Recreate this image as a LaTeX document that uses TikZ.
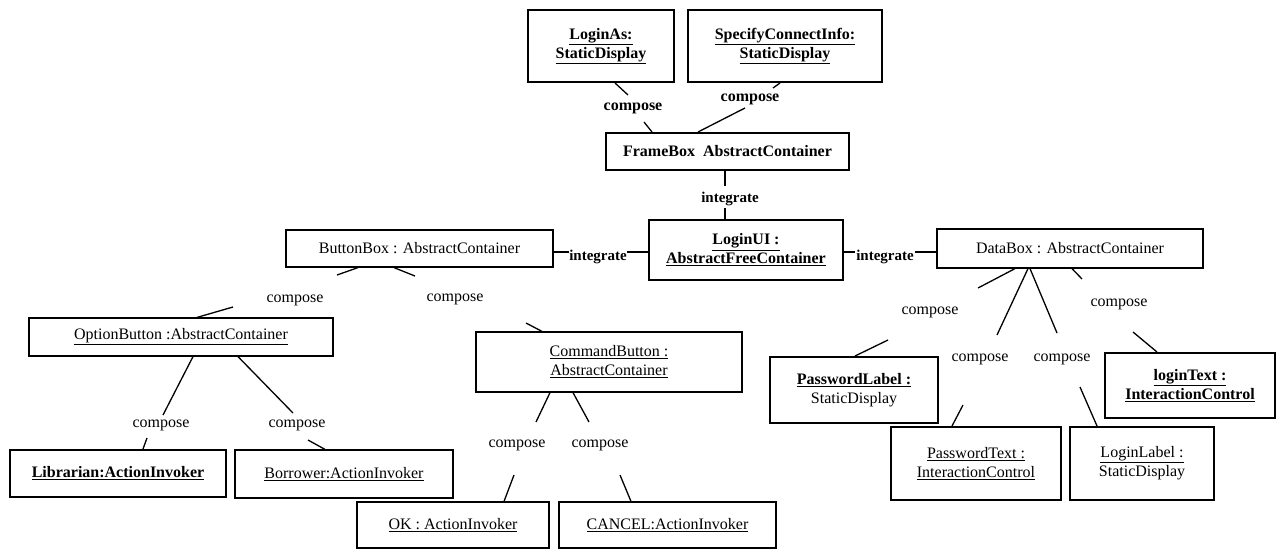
\documentclass[tikz,border=0pt]{standalone}
\usepackage{fontspec}
\setmainfont{Liberation Serif}
\begin{document}
\begin{tikzpicture}[x=1pt,y=-1pt,
  obj/.style={draw, line width=1.2pt, inner sep=0pt, align=center,
              font=\fontsize{16}{19}\selectfont},
  heavy/.style={obj, line width=2pt},
  heavybf/.style={heavy, font=\fontsize{16}{19}\selectfont\bfseries},
  lab/.style={inner sep=0pt, font=\fontsize{16}{19}\selectfont},
  blab/.style={inner sep=0pt, font=\fontsize{16}{19}\selectfont\bfseries},
  ilab/.style={inner sep=0pt, font=\fontsize{15}{17}\selectfont\bfseries},
  link/.style={line width=1.3pt}]
\useasboundingbox (0,0) rectangle (1281,552);

% ---- objects ----
\node[heavybf, minimum width=146pt, minimum height=72pt] (loginAs) at (601,46)
  {\underline{LoginAs:}\\\underline{StaticDisplay}};
\node[heavybf, minimum width=194pt, minimum height=72pt] (specify) at (785,46)
  {\underline{SpecifyConnectInfo:}\\\underline{StaticDisplay}};
\node[heavybf, minimum width=243pt, minimum height=37pt] (frameBox) at (727.5,151.5)
  {FrameBox\ \ AbstractContainer};
\node[heavybf, minimum width=194pt, minimum height=60pt] (loginUI) at (746,250)
  {\underline{LoginUI :}\\\underline{AbstractFreeContainer}};
\node[obj, minimum width=267pt, minimum height=37pt] (buttonBox) at (419.5,248.5)
  {ButtonBox : AbstractContainer};
\node[obj, minimum width=266pt, minimum height=39pt] (dataBox) at (1070,248.5)
  {DataBox : AbstractContainer};
\node[obj, minimum width=304pt, minimum height=38pt] (optionButton) at (181,337)
  {\underline{OptionButton :AbstractContainer}};
\node[obj, minimum width=266pt, minimum height=60pt] (commandButton) at (609,362)
  {\underline{CommandButton :}\\\underline{AbstractContainer}};
\node[heavybf, minimum width=216pt, minimum height=47pt] (librarian) at (118,473.5)
  {\underline{Librarian:ActionInvoker}};
\node[obj, minimum width=218pt, minimum height=48pt] (borrower) at (344,474)
  {\underline{Borrower:ActionInvoker}};
\node[obj, minimum width=192pt, minimum height=46pt] (okBtn) at (453,525)
  {\underline{OK : ActionInvoker}};
\node[obj, minimum width=217pt, minimum height=46pt] (cancelBtn) at (667.5,525)
  {\underline{CANCEL:ActionInvoker}};
\node[heavy, minimum width=168pt, minimum height=66pt] (passwordLabel) at (854,390)
  {\textbf{\underline{PasswordLabel :}}\\StaticDisplay};
\node[heavy, minimum width=170pt, minimum height=73pt] (passwordText) at (976,463.5)
  {\underline{PasswordText :}\\\underline{InteractionControl}};
\node[heavy, minimum width=144pt, minimum height=73pt] (loginLabel) at (1142,463.5)
  {\underline{LoginLabel :}\\StaticDisplay};
\node[heavybf, minimum width=170pt, minimum height=65pt] (loginText) at (1190,385.5)
  {\underline{loginText :}\\\underline{InteractionControl}};

% ---- connector labels ----
\node[blab] (c1) at (633,108) {compose};
\node[blab] (c2) at (750,99) {compose};
\node[ilab] (i1) at (730,199) {integrate};
\node[ilab] (i2) at (598,257) {integrate};
\node[ilab] (i3) at (885,257) {integrate};
\node[lab] (c3) at (295,300) {compose};
\node[lab] (c4) at (455,299) {compose};
\node[lab] (c5) at (161,425) {compose};
\node[lab] (c6) at (297,425) {compose};
\node[lab] (c7) at (517,445) {compose};
\node[lab] (c8) at (600,445) {compose};
\node[lab] (c9) at (930,312) {compose};
\node[lab] (c10) at (980,359) {compose};
\node[lab] (c11) at (1062,359) {compose};
\node[lab] (c12) at (1119,304) {compose};

% ---- gap ends of the broken connectors ----
\coordinate (g1a) at (628,95);   \coordinate (g1b) at (644,122);
\coordinate (g2a) at (773,88);   \coordinate (g2b) at (745,108);
\coordinate (gi1a) at (725,186); \coordinate (gi1b) at (725,208);
\coordinate (gi2a) at (569,252); \coordinate (gi2b) at (627,252);
\coordinate (gi3a) at (855,252); \coordinate (gi3b) at (915,252);
\coordinate (g3a) at (337,275);  \coordinate (g3b) at (233,307);
\coordinate (g4a) at (415,276);  \coordinate (g4b) at (526,323);
\coordinate (g5a) at (163,415);  \coordinate (g5b) at (147,438);
\coordinate (g6a) at (293,413);  \coordinate (g6b) at (308,440);
\coordinate (g7a) at (536,422);  \coordinate (g7b) at (514,475);
\coordinate (g8a) at (589,422);  \coordinate (g8b) at (620,475);
\coordinate (g9a) at (978,288);  \coordinate (g9b) at (888,340);
\coordinate (g10a) at (997,335); \coordinate (g10b) at (963,405);
\coordinate (g11a) at (1057,333);\coordinate (g11b) at (1080,387);
\coordinate (g12a) at (1082,279);\coordinate (g12b) at (1133,332);

% ---- connectors ----
\draw[link] ([xshift=14pt]loginAs.south) -- (g1a);
\draw[link] (g1b) -- ([xshift=-75.5pt]frameBox.north);
\draw[link] ([xshift=-5pt]specify.south) -- (g2a);
\draw[link] (g2b) -- ([xshift=-29.5pt]frameBox.north);
\draw[link] ([xshift=-2.5pt]frameBox.south) -- (gi1a);
\draw[link] (gi1b) -- ([xshift=-21pt]loginUI.north);
\draw[link] ([yshift=-3.5pt]buttonBox.east) -- (gi2a);
\draw[link] (gi2b) -- ([yshift=-2pt]loginUI.west);
\draw[link] ([yshift=-2pt]loginUI.east) -- (gi3a);
\draw[link] (gi3b) -- ([yshift=-3.5pt]dataBox.west);
\draw[link] ([xshift=-61.5pt]buttonBox.south) -- (g3a);
\draw[link] (g3b) -- ([xshift=16pt]optionButton.north);
\draw[link] ([xshift=-25.5pt]buttonBox.south) -- (g4a);
\draw[link] (g4b) -- ([xshift=-67pt]commandButton.north);
\draw[link] ([xshift=12pt]optionButton.south) -- (g5a);
\draw[link] (g5b) -- ([xshift=25pt]librarian.north);
\draw[link] ([xshift=57pt]optionButton.south) -- (g6a);
\draw[link] (g6b) -- ([xshift=-19pt]borrower.north);
\draw[link] ([xshift=-59pt]commandButton.south) -- (g7a);
\draw[link] (g7b) -- ([xshift=51pt]okBtn.north);
\draw[link] ([xshift=-36pt]commandButton.south) -- (g8a);
\draw[link] (g8b) -- ([xshift=-36.5pt]cancelBtn.north);
\draw[link] ([xshift=-55pt]dataBox.south) -- (g9a);
\draw[link] (g9b) -- ([xshift=1pt]passwordLabel.north);
\draw[link] ([xshift=-42pt]dataBox.south) -- (g10a);
\draw[link] (g10b) -- ([xshift=-24pt]passwordText.north);
\draw[link] ([xshift=-40pt]dataBox.south) -- (g11a);
\draw[link] (g11b) -- ([xshift=-45pt]loginLabel.north);
\draw[link] ([xshift=2pt]dataBox.south) -- (g12a);
\draw[link] (g12b) -- ([xshift=-33pt]loginText.north);
\end{tikzpicture}
\end{document}
